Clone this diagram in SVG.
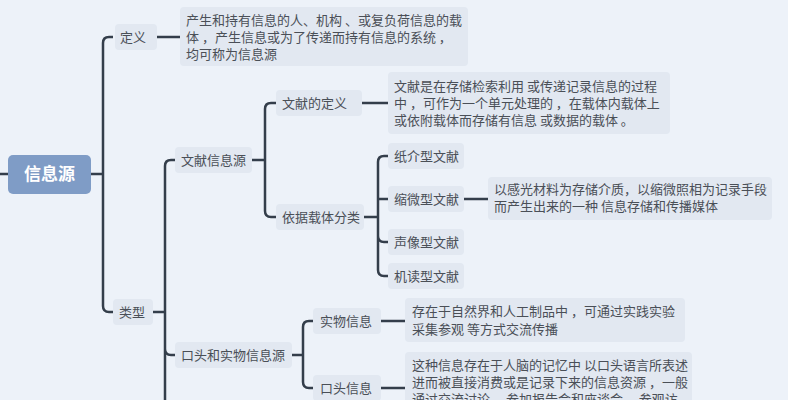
<svg xmlns="http://www.w3.org/2000/svg" width="788" height="400" viewBox="0 0 788 400">
<style>
.n{fill:#e2e8f1}
.t{font-family:"Noto Sans CJK SC",sans-serif;font-size:13px;fill:#4a4f57}
.c{fill:none;stroke:#343e4b;stroke-width:2.5}
</style>
<rect width="788" height="400" fill="#edf2f9"/>
<g id="connectors" class="c">
<path d="M0 174H8M91 174H103M113 37H109Q103 37 103 43V306Q103 312 109 312H113"/>
<path d="M157 37H180"/>
<path d="M153 312H165M175 160H171Q165 160 165 166V400M165 349Q165 355 171 355H175"/>
<path d="M252 160H265M276 103H271Q265 103 265 109V211Q265 217 271 217H276M362 103H388"/>
<path d="M364 217H378M388 156H384Q378 156 378 162V270Q378 276 384 276H388M378 199H388M378 236Q378 242 384 242H388M464 199H488"/>
<path d="M292 355H303M313 321H309Q303 321 303 327V382Q303 388 309 388H313M381 321H405M381 388H405"/>
</g>
<g id="root"><rect x="8" y="155" width="83" height="39" rx="5" fill="#7f9cc6"/><text x="49.5" y="180" text-anchor="middle" font-family="Noto Sans CJK SC,sans-serif" font-size="17" font-weight="bold" fill="#fff">信息源</text></g>
<g id="def"><rect class="n" x="115" y="24" width="42" height="26" rx="4"/><text class="t" x="120" y="42">定义</text></g>
<g id="def-text"><rect class="n" x="180" y="7" width="288" height="59" rx="4"/><text class="t" x="186" y="25">产生和持有信息的人、机构 、或复负荷信息的载</text><text class="t" x="186" y="42">体 ，产生信息或为了传递而持有信息的系统 ，</text><text class="t" x="186" y="59">均可称为信息源</text></g>
<g id="type"><rect class="n" x="113" y="299" width="40" height="26" rx="4"/><text class="t" x="119" y="317">类型</text></g>
<g id="wx"><rect class="n" x="175" y="147" width="77" height="26" rx="4"/><text class="t" x="181" y="165">文献信息源</text></g>
<g id="wxdef"><rect class="n" x="276" y="90" width="86" height="26" rx="4"/><text class="t" x="282" y="108">文献的定义</text></g>
<g id="wxdef-text"><rect class="n" x="388" y="72" width="282" height="62" rx="4"/><text class="t" x="394" y="91">文献是在存储检索利用 或传递记录信息的过程</text><text class="t" x="394" y="108">中 ，可作为一个单元处理的 ，在载体内载体上</text><text class="t" x="394" y="125">或依附载体而存储有信息 或数据的载体 。</text></g>
<g id="cls"><rect class="n" x="276" y="204" width="88" height="26" rx="4"/><text class="t" x="282" y="222">依据载体分类</text></g>
<g id="z1"><rect class="n" x="388" y="143" width="76" height="26" rx="4"/><text class="t" x="394" y="161">纸介型文献</text></g>
<g id="z2"><rect class="n" x="388" y="186" width="76" height="26" rx="4"/><text class="t" x="394" y="204">缩微型文献</text></g>
<g id="z2-text"><rect class="n" x="488" y="177" width="284" height="43" rx="4"/><text class="t" x="494" y="194">以感光材料为存储介质，以缩微照相为记录手段</text><text class="t" x="494" y="211">而产生出来的一种 信息存储和传播媒体</text></g>
<g id="z3"><rect class="n" x="388" y="229" width="76" height="26" rx="4"/><text class="t" x="394" y="247">声像型文献</text></g>
<g id="z4"><rect class="n" x="388" y="263" width="76" height="26" rx="4"/><text class="t" x="394" y="281">机读型文献</text></g>
<g id="kt"><rect class="n" x="175" y="342" width="117" height="26" rx="4"/><text class="t" x="181" y="360">口头和实物信息源</text></g>
<g id="sw"><rect class="n" x="313" y="308" width="68" height="26" rx="4"/><text class="t" x="320" y="326">实物信息</text></g>
<g id="sw-text"><rect class="n" x="405" y="298" width="280" height="44" rx="4"/><text class="t" x="412" y="316">存在于自然界和人工制品中 ，可通过实践实验</text><text class="t" x="412" y="334">采集参观 等方式交流传播</text></g>
<g id="kx"><rect class="n" x="313" y="375" width="68" height="26" rx="4"/><text class="t" x="320" y="393">口头信息</text></g>
<g id="kx-text"><rect class="n" x="405" y="352" width="287" height="60" rx="4"/><text class="t" x="412" y="370">这种信息存在于人脑的记忆中 以口头语言所表述</text><text class="t" x="412" y="387">进而被直接消费或是记录下来的信息资源 ，一般</text><text class="t" x="412" y="404">通过交流讨论 ，参加报告会和座谈会 ，参观访</text></g>
</svg>
